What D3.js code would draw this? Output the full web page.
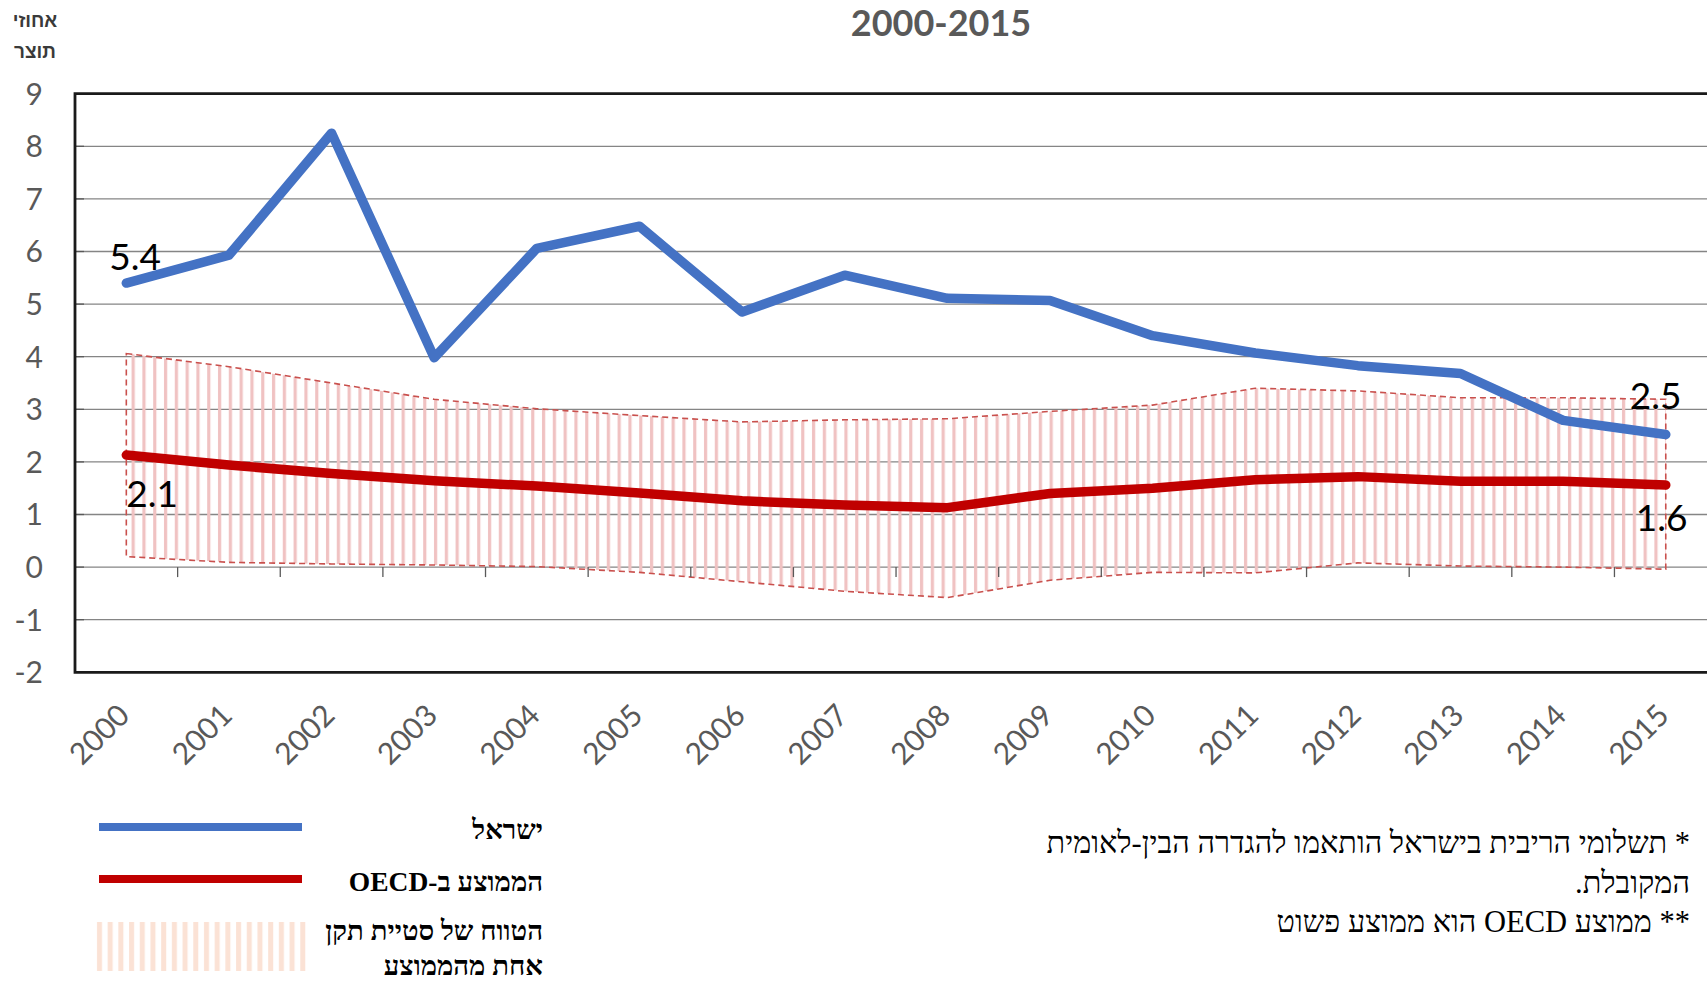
<!DOCTYPE html>
<html><head><meta charset="utf-8">
<script src="https://cdn.jsdelivr.net/npm/d3@7/dist/d3.min.js"></script>
<style>
html,body{margin:0;padding:0;background:#fff;overflow:hidden;}
svg{display:block;}
</style></head>
<body>
<svg id="chart" width="1707" height="981"></svg>
<script>
const years = ["2000","2001","2002","2003","2004","2005","2006","2007","2008","2009","2010","2011","2012","2013","2014","2015"];
const israel = [5.40, 5.93, 8.25, 3.98, 6.06, 6.48, 4.85, 5.55, 5.11, 5.07, 4.40, 4.07, 3.83, 3.68, 2.79, 2.52];
const oecd   = [2.13, 1.94, 1.78, 1.64, 1.54, 1.41, 1.26, 1.18, 1.13, 1.40, 1.50, 1.66, 1.72, 1.63, 1.63, 1.56];
const rangeUpper = [4.06, 3.81, 3.50, 3.19, 3.01, 2.88, 2.76, 2.80, 2.82, 2.96, 3.08, 3.40, 3.35, 3.22, 3.22, 3.19];
const rangeLower = [0.20, 0.09, 0.06, 0.04, 0.01, -0.10, -0.28, -0.46, -0.58, -0.25, -0.10, -0.11, 0.08, 0.02, 0.00, -0.04];
const yTicks = [-2, -1, 0, 1, 2, 3, 4, 5, 6, 7, 8, 9];
const yTickLabels = ["-2","-1","0","1","2","3","4","5","6","7","8","9"];
const title = "2000-2015";
const yTitle = ["אחוזי", "תוצר"];
const legendLabels = ["ישראל", "הממוצע ב-OECD", ["הטווח של סטיית תקן", "אחת מהממוצע"]];
const footnotes = ["* תשלומי הריבית בישראל הותאמו להגדרה הבין-לאומית", "המקובלת.", "** ממוצע  OECD הוא ממוצע פשוט"];
const dataLabels = [
  {series: "israel", i: 0, text: "5.4", dx: -17, dy: -13},
  {series: "oecd", i: 0, text: "2.1", dx: 0, dy: 52},
  {series: "israel", i: 15, text: "2.5", dx: -36, dy: -26},
  {series: "oecd", i: 15, text: "1.6", dx: -30, dy: 46}
];

const svg = d3.select("#chart");
const W = 1707, H = 981;
const plotLeft = 75, plotTop = 93.7, plotBottom = 672.3, step = 102.63;
const x = d3.scaleBand().domain(years).range([plotLeft, plotLeft + step * years.length]).paddingInner(0).paddingOuter(0);
const cx = d => x(d) + x.bandwidth() / 2;
const y = d3.scaleLinear().domain([-2, 9]).range([plotBottom, plotTop]);

const defs = svg.append("defs");
const pat = defs.append("pattern").attr("id", "stripes").attr("patternUnits", "userSpaceOnUse")
  .attr("width", 10.8).attr("height", 20);
pat.append("rect").attr("x", 2).attr("y", 0).attr("width", 3.2).attr("height", 20).attr("fill", "#f0c2c2");
const pat2 = defs.append("pattern").attr("id", "stripesLegend").attr("patternUnits", "userSpaceOnUse")
  .attr("x", 94).attr("width", 10.7).attr("height", 20);
pat2.append("rect").attr("x", 3).attr("y", 0).attr("width", 5).attr("height", 20).attr("fill", "#fbe2d5");

// gridlines
svg.append("g").selectAll("line").data(yTicks.filter(v => v > -2 && v < 9)).join("line")
  .attr("x1", plotLeft).attr("x2", W).attr("y1", d => y(d)).attr("y2", d => y(d))
  .attr("stroke", "#858585").attr("stroke-width", 1.3);
// inner ticks on y axis
svg.append("g").selectAll("line").data(yTicks).join("line")
  .attr("x1", plotLeft).attr("x2", plotLeft + 9).attr("y1", d => y(d)).attr("y2", d => y(d))
  .attr("stroke", "#595959").attr("stroke-width", 1.3);

// range band
const area = d3.area().x((d, i) => cx(years[i])).y0((d, i) => y(rangeLower[i])).y1((d, i) => y(rangeUpper[i]));
svg.append("path").attr("d", area(years) + "Z")
  .attr("fill", "url(#stripes)").attr("stroke", "#c9504d").attr("stroke-width", 1.6)
  .attr("stroke-dasharray", "6,4");

// category ticks on zero line
const boundaries = d3.range(1, years.length + 1).map(k => plotLeft + k * x.step());
svg.append("g").selectAll("line").data(boundaries).join("line")
  .attr("x1", d => d).attr("x2", d => d).attr("y1", y(0)).attr("y2", y(0) + 10)
  .attr("stroke", "#595959").attr("stroke-width", 1.3);

// frame
svg.append("path").attr("d", `M${W + 10},${plotTop}H${plotLeft}V${plotBottom}H${W + 10}`)
  .attr("fill", "none").attr("stroke", "#1a1a1a").attr("stroke-width", 2.8);

// lines
const line = arr => d3.line().x((d, i) => cx(years[i])).y((d, i) => y(arr[i]))(arr);
svg.append("path").attr("d", line(oecd)).attr("fill", "none").attr("stroke", "#c00000")
  .attr("stroke-width", 9.5).attr("stroke-linecap", "round").attr("stroke-linejoin", "round");
svg.append("path").attr("d", line(israel)).attr("fill", "none").attr("stroke", "#4472c4")
  .attr("stroke-width", 9.5).attr("stroke-linecap", "round").attr("stroke-linejoin", "round");

// data labels
const seriesMap = {israel, oecd};
svg.append("g").selectAll("text").data(dataLabels).join("text")
  .attr("x", d => cx(years[d.i]) + d.dx).attr("y", d => y(seriesMap[d.series][d.i]) + d.dy)
  .attr("font-family", "Lato, sans-serif").attr("font-size", 37).attr("fill", "#000")
  .text(d => d.text);

// y tick labels
svg.append("g").selectAll("text").data(yTicks).join("text")
  .attr("x", 43).attr("y", d => y(d)).attr("dy", "0.36em").attr("text-anchor", "end")
  .attr("font-family", "Lato, sans-serif").attr("font-size", 30).attr("fill", "#595959")
  .text((d, i) => yTickLabels[i]);

// x tick labels
svg.append("g").selectAll("text").data(years).join("text")
  .attr("transform", d => `translate(${cx(d) + 5},${plotBottom + 45}) rotate(-45)`)
  .attr("text-anchor", "end")
  .attr("font-family", "Lato, sans-serif").attr("font-size", 30).attr("fill", "#595959")
  .text(d => d);

// title
svg.append("text").attr("x", 941).attr("y", 36).attr("text-anchor", "middle")
  .attr("font-family", "Lato, sans-serif").attr("font-weight", "bold").attr("font-size", 36)
  .attr("fill", "#595959").text(title);

// y title
svg.append("g").selectAll("text").data(yTitle).join("text")
  .attr("x", 35).attr("y", (d, i) => 27 + i * 31).attr("text-anchor", "middle")
  .attr("font-family", "'Liberation Sans', Arial, sans-serif").attr("font-weight", "bold").attr("font-size", 19)
  .attr("fill", "#3a3a3a").text(d => d);

// legend
const lg = svg.append("g");
lg.append("line").attr("x1", 99).attr("x2", 302).attr("y1", 827).attr("y2", 827).attr("stroke", "#4472c4").attr("stroke-width", 8);
lg.append("line").attr("x1", 99).attr("x2", 302).attr("y1", 879).attr("y2", 879).attr("stroke", "#c00000").attr("stroke-width", 8);
lg.append("rect").attr("x", 94).attr("y", 922).attr("width", 214).attr("height", 49).attr("fill", "url(#stripesLegend)");
const legendLines = [
  {t: legendLabels[0], y: 839},
  {t: legendLabels[1], y: 891},
  {t: legendLabels[2][0], y: 940},
  {t: legendLabels[2][1], y: 975}
];
lg.selectAll("text").data(legendLines).join("text")
  .attr("x", 543).attr("y", d => d.y).attr("direction", "rtl").attr("text-anchor", "start")
  .style("direction", "rtl").style("unicode-bidi", "embed")
  .attr("font-family", "'Liberation Serif', 'Times New Roman', serif").attr("font-weight", "bold").attr("font-size", 27.5)
  .attr("fill", "#000").text(d => d.t);

// footnotes
svg.append("g").selectAll("text").data(footnotes).join("text")
  .attr("x", 1690).attr("y", (d, i) => [853, 893, 932][i]).attr("direction", "rtl").attr("text-anchor", "start")
  .style("direction", "rtl").style("unicode-bidi", "embed")
  .attr("font-family", "'Liberation Serif', 'Times New Roman', serif").attr("font-size", 30.5)
  .attr("fill", "#000").text(d => d);
</script>
</body></html>
